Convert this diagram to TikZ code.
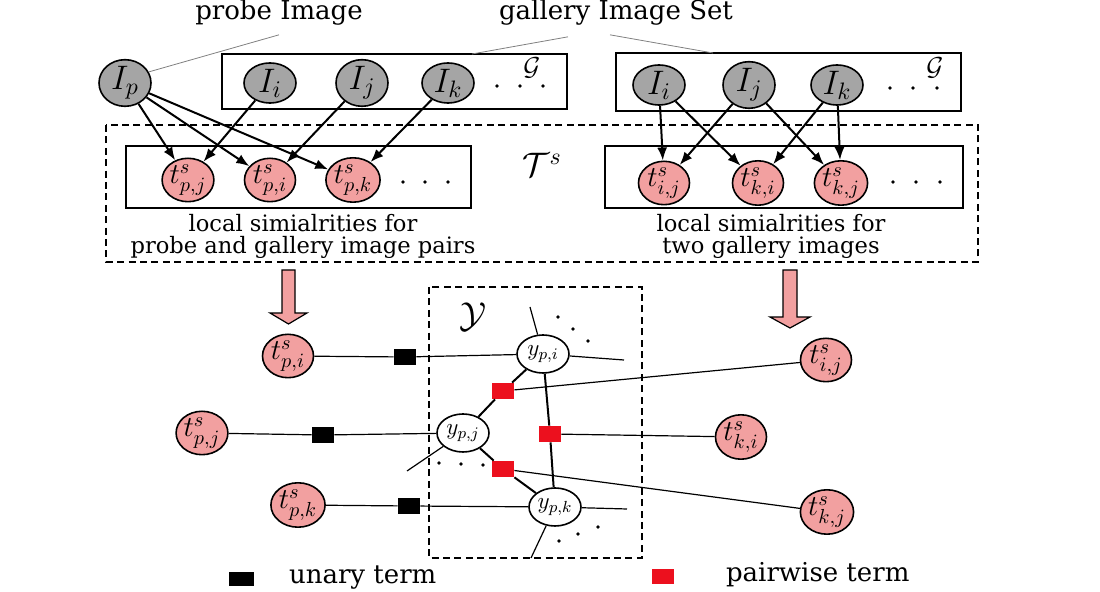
\RequirePackage{fix-cm}
\documentclass[tikz,border=0pt]{standalone}
\usepackage{amsmath}
\usepackage{fontspec}
\setmainfont{DejaVu Serif}
\usepackage{tikz}
\usetikzlibrary{arrows.meta,shapes.geometric}
\definecolor{imggray}{RGB}{165,165,165}
\definecolor{simpink}{RGB}{242,160,160}
\definecolor{termred}{RGB}{236,16,30}

\begin{document}
\begin{tikzpicture}[x=0.5pt,y=-0.5pt,
  img/.style={draw,ellipse,fill=imggray,line width=0.8pt,minimum width=26pt,minimum height=20pt,inner sep=0pt,font=\fontsize{17}{17}\selectfont},
  sim/.style={draw,ellipse,fill=simpink,line width=0.8pt,minimum width=25.5pt,minimum height=20pt,inner sep=0pt,font=\fontsize{14.5}{14.5}\selectfont},
  var/.style={draw,ellipse,fill=white,line width=0.8pt,minimum width=26pt,minimum height=19pt,inner sep=0pt,font=\fontsize{11.5}{11.5}\selectfont},
  unary/.style={fill=black,minimum width=11pt,minimum height=8pt,inner sep=0pt},
  pair/.style={fill=termred,minimum width=11pt,minimum height=8pt,inner sep=0pt},
  dep/.style={-{Latex[length=6.5pt,width=5pt]},line width=1pt},
  leader/.style={draw=gray,line width=0.4pt},
  framebox/.style={draw,line width=0.7pt},
  dashbox/.style={draw,dash pattern=on 3.5pt off 2.2pt,line width=0.6pt},
  bigarrow/.style={draw,fill=simpink,line width=0.6pt},
  title/.style={font=\fontsize{13}{15}\selectfont},
  caption/.style={font=\fontsize{11.3}{11}\selectfont,align=center},
  link/.style={line width=0.6pt},
  ylink/.style={line width=1pt}]

\useasboundingbox (0,0) rectangle (1100,592);

\node[title] (probe) at (279,13) {probe Image};
\node[title] (gallery) at (616,13) {gallery Image Set};

\draw[framebox] (222,54) rectangle (567,109);
\draw[framebox] (616,53) rectangle (961,111);
\draw[dashbox] (106,125) rectangle (978,262);
\draw[framebox] (126,146) rectangle (471,208);
\draw[framebox] (605,146) rectangle (963,208);

\node (G1) at (532,68) {\fontsize{13}{13}\selectfont$\mathcal{G}$};
\node (G2) at (935,68) {\fontsize{13}{13}\selectfont$\mathcal{G}$};
\node (Ts) at (542,165) {\fontsize{17}{17}\selectfont$\mathcal{T}^s$};

\node[img] (Ip) at (125,83) {$I_p$};
\node[img] (Ii) at (270,83) {$I_i$};
\node[img] (Ij) at (362,83) {$I_j$};
\node[img] (Ik) at (448,83) {$I_k$};
\node[img] (Ii2) at (659,85) {$I_i$};
\node[img] (Ij2) at (749,85) {$I_j$};
\node[img] (Ik2) at (837,85) {$I_k$};

\node[sim] (tpj) at (188,180) {$t^s_{p,j}$};
\node[sim] (tpi) at (270,180) {$t^s_{p,i}$};
\node[sim] (tpk) at (353,180) {$t^s_{p,k}$};
\node[sim] (tij) at (664,183) {$t^s_{i,j}$};
\node[sim] (tki) at (758,183) {$t^s_{k,i}$};
\node[sim] (tkj) at (841,183) {$t^s_{k,j}$};

\coordinate (galL) at (472,54);
\coordinate (galR) at (713,53);
\draw[leader] ([yshift=-1pt]probe.south) -- (Ip.25);
\draw[leader] ([xshift=-24pt,yshift=-2pt]gallery.south) -- (galL);
\draw[leader] ([xshift=-3pt,yshift=-1pt]gallery.south) -- (galR);

\foreach \a/\b in {Ip/tpj,Ip/tpi,Ip/tpk,Ii/tpj,Ij/tpi,Ik/tpk,Ii2/tij,Ii2/tki,Ij2/tij,Ij2/tkj,Ik2/tki,Ik2/tkj}
  \draw[dep] (\a) -- (\b);

\node[caption] (capL) at (303,236) {local simialrities for\\probe and gallery image pairs};
\node[caption] (capR) at (771,236) {local simialrities for\\two gallery images};

\draw[bigarrow] (282,270) -- (295,270) -- (295,313) -- (307,313) -- (288.5,324) -- (270,313) -- (282,313) -- cycle;
\draw[bigarrow] (783,270) -- (797,270) -- (797,317) -- (810,317) -- (790,328) -- (770,317) -- (783,317) -- cycle;

\draw[dashbox] (429,287) rectangle (642,558);
\node (Y) at (473,317) {\fontsize{18}{18}\selectfont$\mathcal{Y}$};

\node[sim] (tpi2) at (288,356) {$t^s_{p,i}$};
\node[sim] (tpj2) at (202,433) {$t^s_{p,j}$};
\node[sim] (tpk2) at (298,505) {$t^s_{p,k}$};
\node[sim] (tij2) at (826,360) {$t^s_{i,j}$};
\node[sim] (tki2) at (741,437) {$t^s_{k,i}$};
\node[sim] (tkj2) at (827,512) {$t^s_{k,j}$};

\node[var] (ypi) at (543,354) {$y_{p,i}$};
\node[var] (ypj) at (463,433) {$y_{p,j}$};
\node[var] (ypk) at (555,507) {$y_{p,k}$};

\node[unary] (ui) at (405,357) {};
\node[unary] (uj) at (323,435) {};
\node[unary] (uk) at (409,506) {};
\node[pair] (pij) at (503,391) {};
\node[pair] (pik) at (550,434) {};
\node[pair] (pjk) at (503,469) {};

\draw[link] (tpi2) -- (ui) -- (ypi);
\draw[link] (tpj2) -- (uj) -- (ypj);
\draw[link] (tpk2) -- (uk) -- (ypk);
\draw[ylink] (ypi) -- (pij) -- (ypj);
\draw[ylink] (ypi) -- (pik) -- (ypk);
\draw[ylink] (ypj) -- (pjk) -- (ypk);
\draw[link] (pij) -- (tij2);
\draw[link] (pik) -- (tki2);
\draw[link] (pjk) -- (tkj2);

\coordinate (si1) at (530,307);
\coordinate (si2) at (624,360);
\coordinate (sj1) at (407,471);
\coordinate (sk1) at (627,509);
\coordinate (sk2) at (531,558);
\draw[link] (ypi) -- (si1);
\draw[link] (ypi) -- (si2);
\draw[link] (ypj) -- (sj1);
\draw[link] (ypk) -- (sk1);
\draw[link] (ypk) -- (sk2);

\foreach \p in {(497,86),(520,86),(543,86),(890,88),(913,88),(937,88),(403,182),(425,182),(448,182),(893,182),(916,182),(940,182),(558,317),(573,329),(588,341),(439,463),(461,464),(483,465),(559,541),(578,534),(598,527)}
  \fill \p circle (0.9pt);

\node[unary,minimum width=12.5pt,minimum height=7pt] (legU) at (241,579) {};
\node[title,anchor=west] (legUtxt) at (282,578) {unary term};
\node[pair,minimum width=11pt,minimum height=7.5pt] (legP) at (663,577) {};
\node[title,anchor=west] (legPtxt) at (719,575) {pairwise term};

\end{tikzpicture}
\end{document}
